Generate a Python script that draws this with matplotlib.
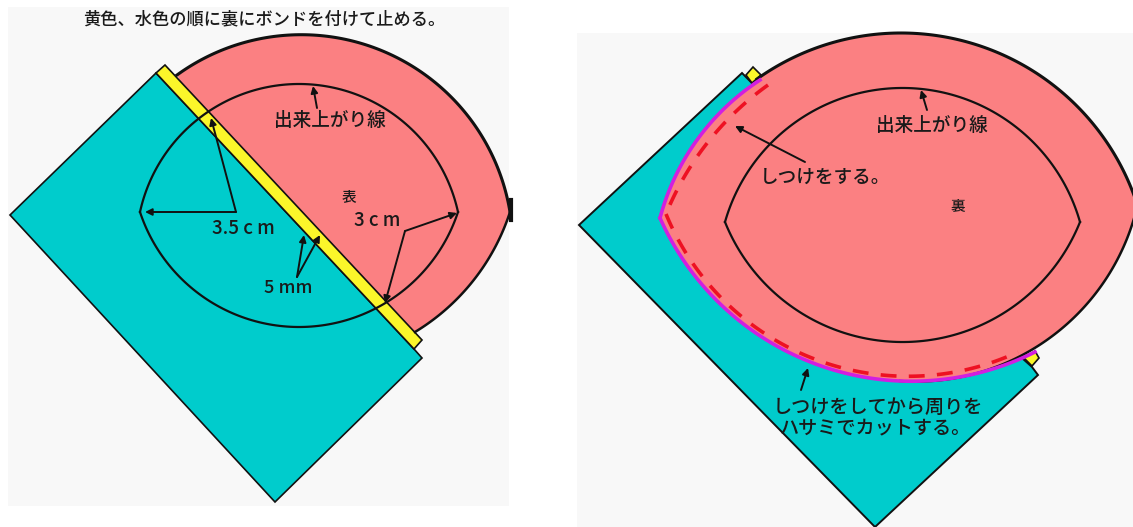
import matplotlib
matplotlib.use("Agg")
import matplotlib.pyplot as plt
import numpy as np
from matplotlib.patches import Polygon, Rectangle

plt.rcParams['font.family'] = ['Noto Sans CJK JP', 'DejaVu Sans']

TEAL = "#00cccc"
PINK = "#fb8082"
YELLOW = "#fbf62a"
MAGENTA = "#d21fe0"
RED = "#ee1122"
PAPER = "#f8f8f8"
INK = "#111111"

# left panel, all in reference pixels; curves are (start, middle, end) of a circular arc
left_paper = (8, 7, 501, 499)
left_teal = [(156, 73), (10, 215), (275, 502), (422, 358), (414, 349)]
left_yellow = [(156, 73), (165, 65), (422, 340), (414, 349)]
left_outer_top = [(177, 75), (290, 35), (510, 212)]
left_outer_bottom = [(510, 212), (468, 287), (415, 332)]
left_hidden = [(300, 250), (200, 120)]  # pink corner tucked under the strip
left_lens_top = [(140, 212), (298, 84), (458, 212)]
left_lens_bottom = [(140, 212), (298, 327), (458, 212)]

# right panel
right_paper = (577, 33, 556, 494)
right_teal = [(742, 73), (579, 225), (875, 527), (1038, 375), (1032, 367), (1022, 358)]
right_yellow = [(753, 67), (761, 75), (752, 83), (746, 75)]
right_yellow2 = [(1024, 358), (1035, 351), (1039, 358), (1032, 366)]
right_outer_top = [(757, 79), (900, 33), (1135, 198)]
right_outer_bottom = [(1135, 215), (1060, 330), (900, 381)]
right_edge_top = [(760, 80), (697, 140), (660, 218)]
right_edge_bottom = [(660, 218), (900, 381), (1035, 352)]
right_dash_top = [(768, 85), (708, 142), (666, 214)]
right_dash_bottom = [(666, 214), (920, 376), (1018, 352)]
right_lens_top = [(725, 222), (905, 88), (1080, 222)]
right_lens_bottom = [(725, 222), (905, 342), (1080, 222)]

# (tail, tip) of each arrow
arrow_heads = [((317, 108), (313, 86)), ((236, 212), (145, 212)), ((236, 212), (211, 118)),
               ((405, 231), (457, 213)), ((405, 231), (385, 303)), ((297, 277), (304, 235)),
               ((297, 277), (320, 235)),
               ((927, 110), (921, 90)), ((805, 162), (735, 126)), ((801, 390), (808, 368))]

labels = [("黄色、水色の順に裏にボンドを付けて止める。", 264, 19, 12.4),
          ("出来上がり線", 330, 120, 13.4),
          ("表", 349, 197, 10.5),
          ("3 c m", 377, 221, 13.5),
          ("3.5 c m", 243, 229, 13.5),
          ("5 mm", 288, 288, 13),
          ("出来上がり線", 932, 125, 13.4),
          ("しつけをする。", 825, 177, 13.4),
          ("裏", 958, 206, 10.5),
          ("しつけをしてから周りを", 878, 407, 13.8),
          ("ハサミでカットする。", 875, 427, 13.8)]


def arc_points(start, mid, end, n=120):
    # circle through three points, walked from start to end by way of mid
    (ax_, ay), (bx, by), (cx, cy) = start, mid, end
    d = 2 * (ax_ * (by - cy) + bx * (cy - ay) + cx * (ay - by))
    ux = ((ax_**2 + ay**2) * (by - cy) + (bx**2 + by**2) * (cy - ay) + (cx**2 + cy**2) * (ay - by)) / d
    uy = ((ax_**2 + ay**2) * (cx - bx) + (bx**2 + by**2) * (ax_ - cx) + (cx**2 + cy**2) * (bx - ax_)) / d
    r = np.hypot(ax_ - ux, ay - uy)
    a0 = np.arctan2(ay - uy, ax_ - ux)
    a1 = np.arctan2(by - uy, bx - ux)
    a2 = np.arctan2(cy - uy, cx - ux)
    sweep1 = (a1 - a0) % (2 * np.pi)
    sweep2 = (a2 - a0) % (2 * np.pi)
    if sweep1 > sweep2:
        sweep2 -= 2 * np.pi
    t = a0 + np.linspace(0, sweep2, n)
    return np.column_stack([ux + r * np.cos(t), uy + r * np.sin(t)])


def draw_arc(ax, spec, color=INK, lw=1.6, **kw):
    xy = arc_points(*spec)
    ax.plot(xy[:, 0], xy[:, 1], color=color, lw=lw, **kw)


fig = plt.figure(figsize=(11.33, 5.27), dpi=100)
ax = fig.add_axes([0, 0, 1, 1])
ax.set_xlim(0, 1133)
ax.set_ylim(527, 0)
ax.axis("off")

for x, y, w, h in (left_paper, right_paper):
    ax.add_patch(Rectangle((x, y), w, h, facecolor=PAPER, edgecolor="none"))

# left piece
left_fill = np.vstack([arc_points(*left_outer_top), arc_points(*left_outer_bottom), left_hidden])
ax.add_patch(Polygon(left_fill, facecolor=PINK, edgecolor="none"))
draw_arc(ax, left_outer_top, lw=2.2)
draw_arc(ax, left_outer_bottom, lw=1.8)
ax.add_patch(Polygon(left_teal, facecolor=TEAL, edgecolor=INK, lw=1.2))
ax.add_patch(Polygon(left_yellow, facecolor=YELLOW, edgecolor=INK, lw=1.2))
draw_arc(ax, left_lens_top)
draw_arc(ax, left_lens_bottom)
ax.plot([511, 511], [200, 220], color=INK, lw=3)

# right piece
ax.add_patch(Polygon(right_teal, facecolor=TEAL, edgecolor=INK, lw=1.4))
ax.add_patch(Polygon(right_yellow2, facecolor=YELLOW, edgecolor=INK, lw=1.2))
right_fill = np.vstack([arc_points(*right_edge_top), arc_points(*right_edge_bottom),
                        arc_points(*right_outer_bottom)[::-1], [(1133, 207)],
                        arc_points(*right_outer_top)[::-1]])
ax.add_patch(Polygon(right_fill, facecolor=PINK, edgecolor="none"))
draw_arc(ax, right_outer_top, lw=2.2)
draw_arc(ax, right_outer_bottom, lw=1.8)
draw_arc(ax, right_edge_top, color=MAGENTA, lw=2.6)
draw_arc(ax, right_edge_bottom, color=MAGENTA, lw=2.6)
ax.add_patch(Polygon(right_yellow, facecolor=YELLOW, edgecolor=INK, lw=1.2))
draw_arc(ax, right_dash_top, color=RED, lw=2.6, linestyle=(0, (4.4, 3.4)))
draw_arc(ax, right_dash_bottom, color=RED, lw=2.6, linestyle=(0, (4.4, 3.4)))
draw_arc(ax, right_lens_top)
draw_arc(ax, right_lens_bottom)

for tail, tip in arrow_heads:
    ax.annotate("", xy=tip, xytext=tail,
                arrowprops=dict(arrowstyle="-|>", color=INK, lw=1.4, mutation_scale=10,
                                shrinkA=0, shrinkB=0))

for text, x, y, size in labels:
    ax.text(x, y, text, fontsize=size, ha="center", va="center", color="#1a1a1a", weight="medium")

fig.savefig("out.png", dpi=100)
